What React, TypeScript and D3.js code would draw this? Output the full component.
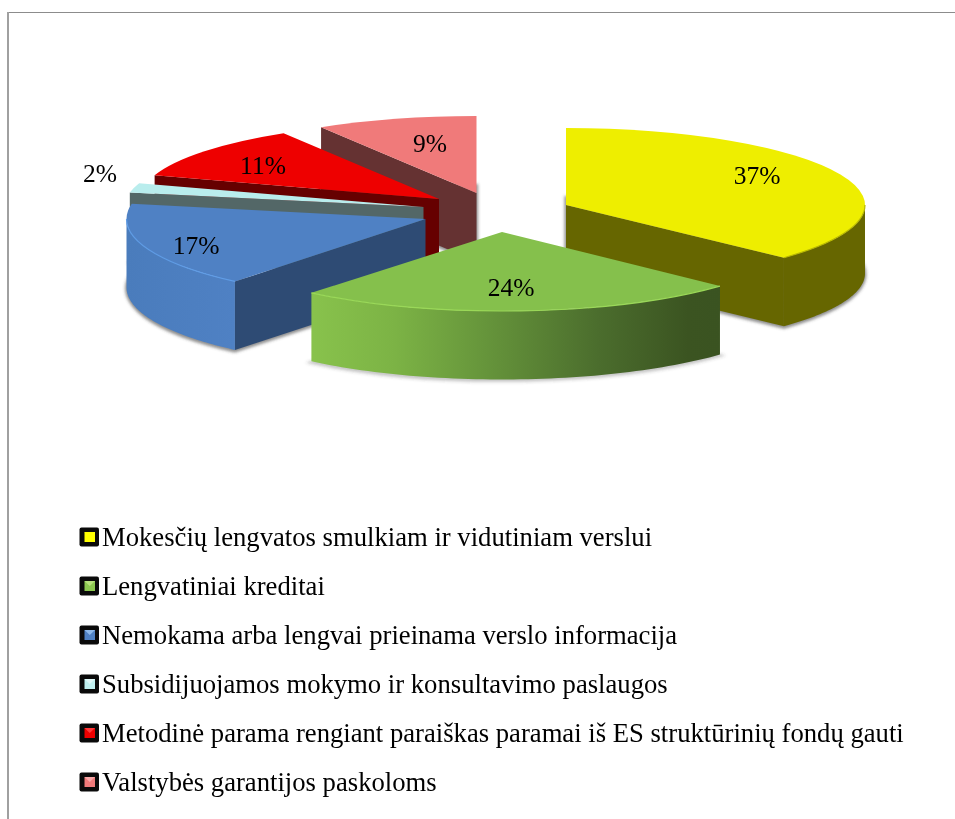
import React from "react";
import * as d3 from "d3";

const categories = [
  "Mokesčių lengvatos smulkiam ir vidutiniam verslui",
  "Lengvatiniai kreditai",
  "Nemokama arba lengvai prieinama verslo informacija",
  "Subsidijuojamos mokymo ir konsultavimo paslaugos",
  "Metodinė parama rengiant paraiškas paramai iš ES struktūrinių fondų gauti",
  "Valstybės garantijos paskoloms",
];
const shares = [37, 24, 17, 2, 11.3, 8.7];
const tickLabels = ["37%", "24%", "17%", "2%", "11%", "9%"];

// layout and style, by slice
const centers: [number, number][] = [[566, 205], [502, 232], [425.5, 219], [423.5, 207], [439, 199], [476.5, 193]];
const radiiY = [77, 79, 81, 77, 77, 77];
const labelPos: [number, number][] = [[757, 175], [511, 287], [196, 245], [100, 173], [263, 165], [430, 143]];
const topColor = ["#eeee00", "#85c04c", "#4f81c4", "#b9eded", "#ee0000", "#f07a7a"];
const wallColor = ["#666600", "#3a5321", "#2e4b74", "#536767", "#660000", "#653232"];
const rimColor = ["#666600", "url(#greenWall)", "url(#blueWall)", "#536767", "#660000", "#653232"];
const hiColor = ["#b9b900", "#9ad858", "#5f9ce6", "none", "none", "none"];
const shadowOpacity = [0.6, 0.3, 0.6, 0.6, 0.6, 0.6];
const swatch = ["#ffff00", "#8cc850", "#4f81c4", "#bff0f0", "#ee0000", "#f07a7a"];
const swatchHi = ["#ffff00", "#b6e07c", "#8db8ea", "#dff8f8", "#ff3a3a", "#f8a8a8"];
const drawOrder = [5, 4, 3, 2, 0, 1];

const rx = 299;
const depth = 68.5;
const legendRowY = d3.scaleLinear().domain([0, 5]).range([537, 782]);

const pie = d3.pie<number>().sort(null).value((d) => d);
const arcs = pie(shares);
const topArc = d3.arc<any>().innerRadius(0).outerRadius(rx);
const rimArc = d3.arc<any>().innerRadius(rx).outerRadius(rx);

const px = (i: number, a: number) => centers[i][0] + rx * Math.sin(a);
const py = (i: number, a: number) => centers[i][1] - radiiY[i] * Math.cos(a);

const frontRange = (i: number) => ({
  startAngle: Math.max(arcs[i].startAngle, Math.PI / 2),
  endAngle: Math.min(arcs[i].endAngle, (3 * Math.PI) / 2),
});

function rimWall(i: number) {
  const { startAngle: a0, endAngle: a1 } = frontRange(i);
  if (a1 <= a0) return null;
  const angles = d3.range(0, 61).map((k) => a0 + ((a1 - a0) * k) / 60);
  return d3
    .area<number>()
    .x((a) => px(i, a))
    .y0((a) => py(i, a))
    .y1((a) => py(i, a) + depth)(angles);
}

function radialWall(i: number, a: number) {
  const c = centers[i];
  const p: [number, number][] = [
    [c[0], c[1]],
    [px(i, a), py(i, a)],
    [px(i, a), py(i, a) + depth],
    [c[0], c[1] + depth],
  ];
  return d3.line()(p) + "Z";
}

export default function App() {
  const faceT = (i: number, dy = 0) =>
    `translate(${centers[i][0]},${centers[i][1] + dy}) scale(1,${radiiY[i] / rx})`;
  return (
    <svg
      width={955}
      height={819}
      style={{ position: "absolute", left: 0, top: 0, display: "block", background: "#fff" }}
      fontFamily="'Liberation Serif', serif"
    >
      <defs>
        <linearGradient id="greenWall" gradientUnits="userSpaceOnUse" x1={313} x2={721} y1={0} y2={0}>
          <stop offset="0" stopColor="#88c24c" />
          <stop offset="0.2" stopColor="#7cb345" />
          <stop offset="0.42" stopColor="#66953b" />
          <stop offset="0.7" stopColor="#4b6d2d" />
          <stop offset="0.92" stopColor="#3b5421" />
          <stop offset="1" stopColor="#3a5321" />
        </linearGradient>
        <linearGradient id="blueWall" gradientUnits="userSpaceOnUse" x1={126} x2={237} y1={0} y2={0}>
          <stop offset="0" stopColor="#4a7cbc" />
          <stop offset="1" stopColor="#4f81c4" />
        </linearGradient>
        <filter id="soft" x="-10%" y="-20%" width="120%" height="140%">
          <feGaussianBlur stdDeviation="1.5" />
        </filter>
      </defs>

      <path d="M8,12.5H955" stroke="#8c8c8c" strokeWidth={1} fill="none" />
      <path d="M8,12V819" stroke="#a0a0a0" strokeWidth={2} fill="none" />

      <g filter="url(#soft)">
        {arcs.map((a, i) => (
          <path
            key={i}
            d={topArc(a) as string}
            fill="#444"
            stroke="#444"
            strokeWidth={3}
            opacity={shadowOpacity[i]}
            vectorEffect="non-scaling-stroke"
            transform={faceT(i, depth + 1)}
          />
        ))}
      </g>

      {drawOrder.map((i) => {
        const a = arcs[i];
        const wall = rimWall(i);
        const startVisible = Math.cos(a.startAngle - Math.PI / 2) < -1e-6;
        const endVisible = Math.cos(a.endAngle + Math.PI / 2) < -1e-6;
        return (
          <g key={i}>
            {startVisible && <path d={radialWall(i, a.startAngle)} fill={wallColor[i]} />}
            {endVisible && <path d={radialWall(i, a.endAngle)} fill={wallColor[i]} />}
            {wall && <path d={wall} fill={rimColor[i]} />}
            <path d={topArc(a) as string} fill={topColor[i]} transform={faceT(i)} />
            {hiColor[i] !== "none" && (
              <path
                d={rimArc(frontRange(i)) as string}
                fill="none"
                stroke={hiColor[i]}
                strokeWidth={1.2}
                vectorEffect="non-scaling-stroke"
                transform={faceT(i)}
              />
            )}
          </g>
        );
      })}

      {tickLabels.map((t, i) => (
        <text key={i} x={labelPos[i][0]} y={labelPos[i][1]} dy="0.34em" textAnchor="middle" fontSize={25.5} fill="#000">
          {t}
        </text>
      ))}

      {categories.map((c, i) => {
        const y = legendRowY(i);
        return (
          <g key={i}>
            <rect x={79.5} y={y - 9.5} width={19.5} height={19} rx={2} fill="#0a0a0a" />
            <rect x={84.5} y={y - 5} width={10.5} height={10} fill={swatch[i]} />
            <path d={`M84.5,${y - 5}h10.5l-5.25,5Z`} fill={swatchHi[i]} />
            <text x={102} y={y + 8.5} fontSize={26.66} fill="#000">
              {c}
            </text>
          </g>
        );
      })}
    </svg>
  );
}
